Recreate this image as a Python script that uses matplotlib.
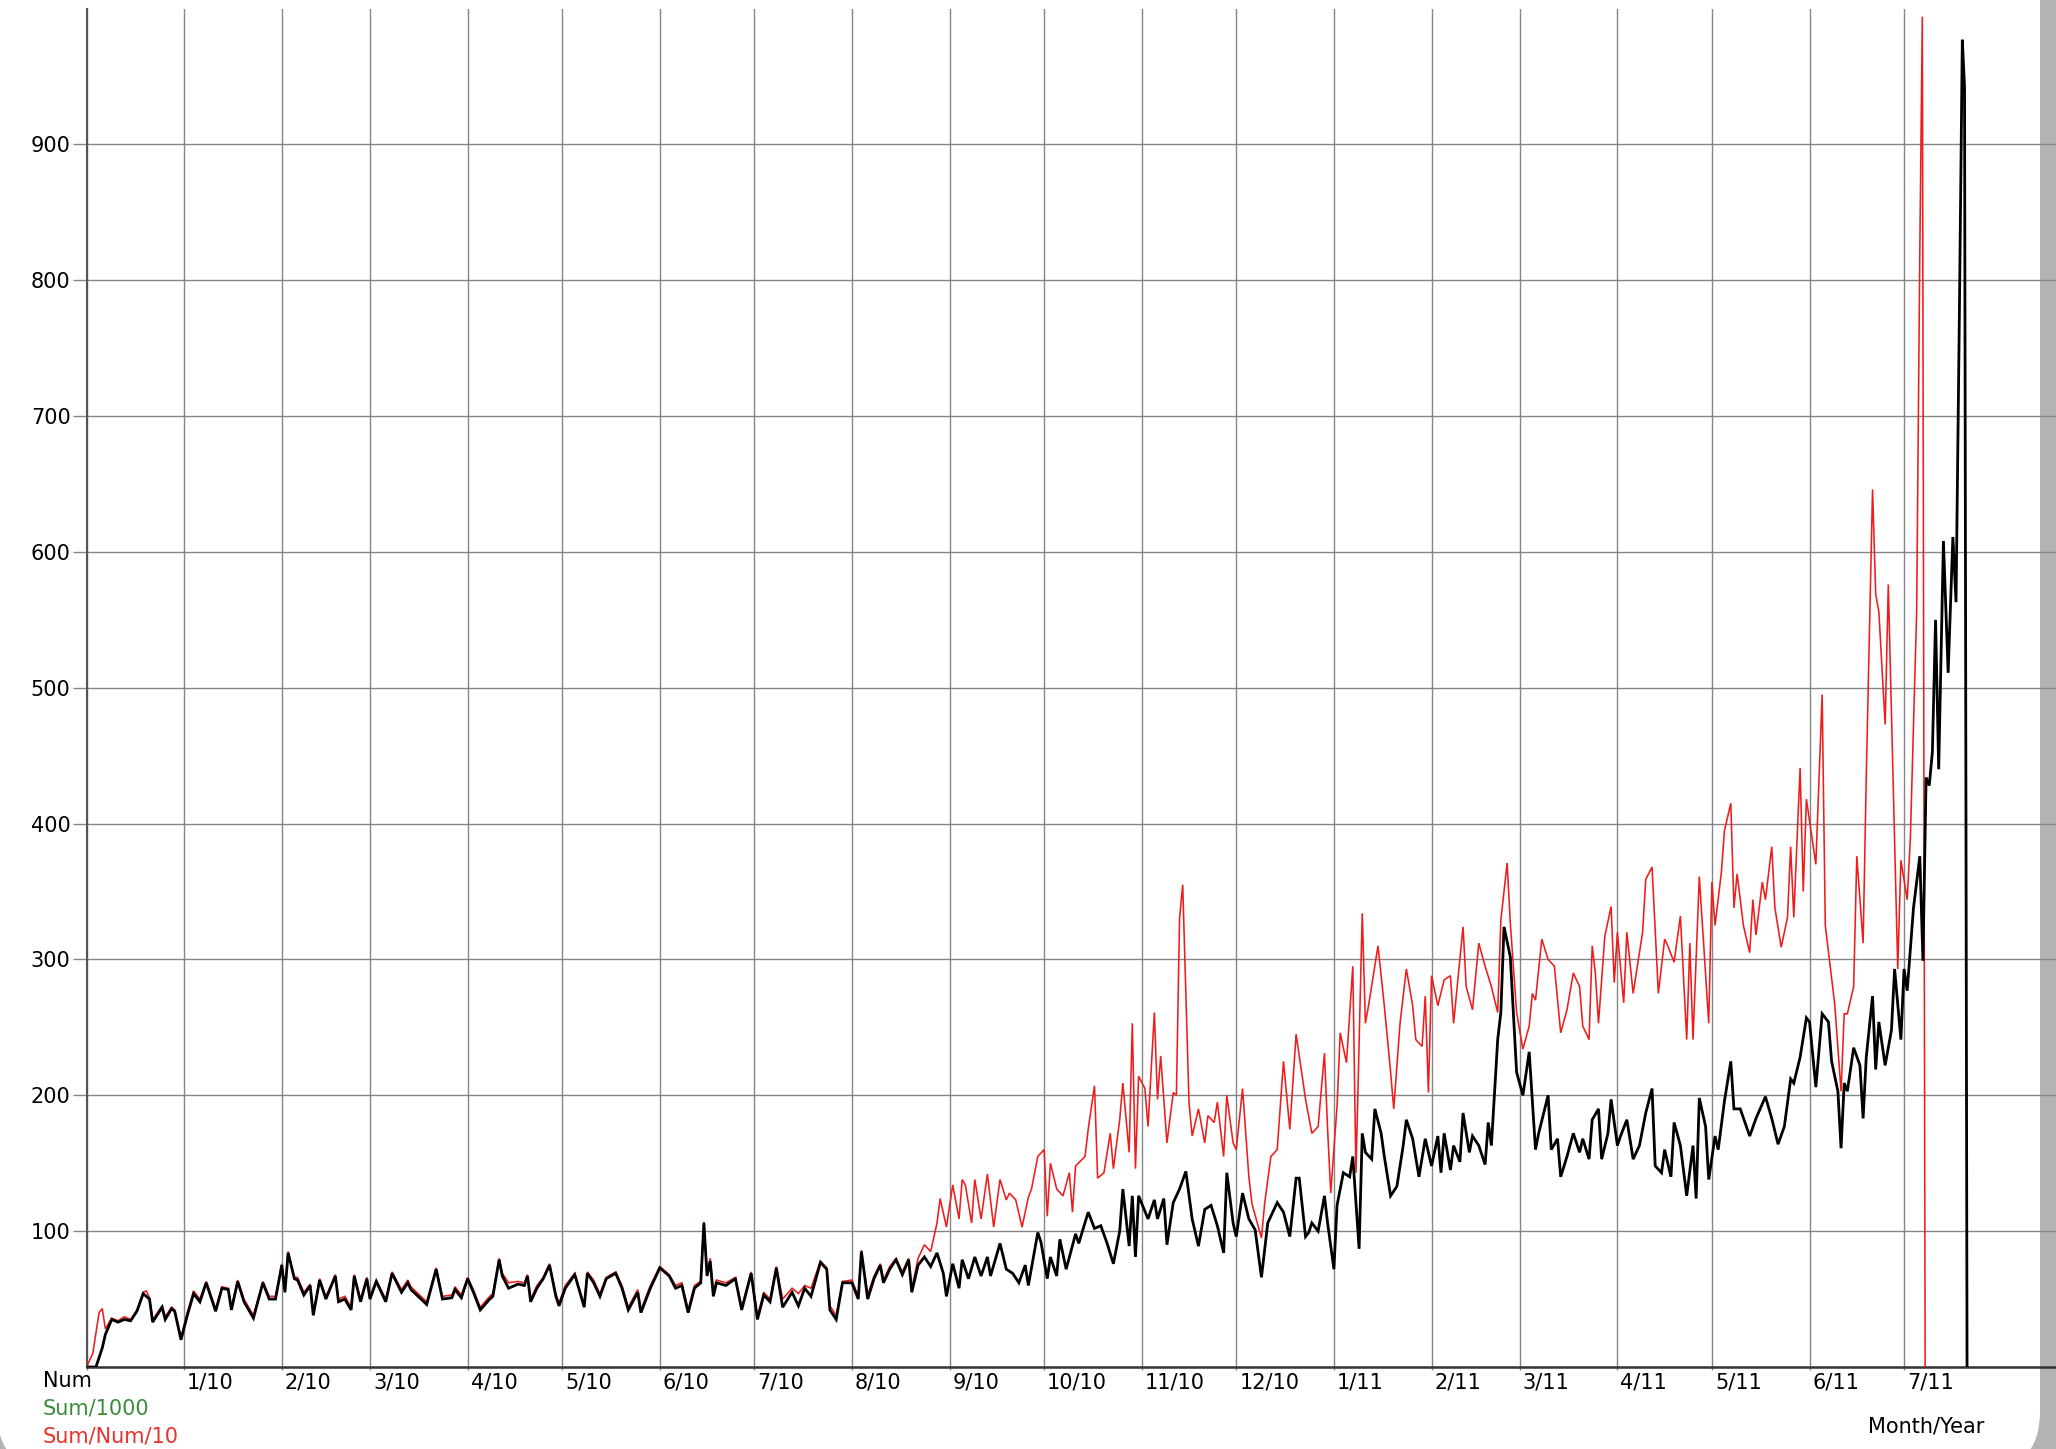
import matplotlib
matplotlib.use("Agg")
import matplotlib.pyplot as plt
import matplotlib.transforms as mtrans
from matplotlib.patches import FancyBboxPatch
import pandas as pd

# ---------------- data ----------------
start_date = "2009-12-01"          # origin of the x axis (day 0)

month_starts = ["2009-12-01", "2010-01-01", "2010-02-01", "2010-03-01", "2010-04-01",
                "2010-05-01", "2010-06-01", "2010-07-01", "2010-08-01", "2010-09-01",
                "2010-10-01", "2010-11-01", "2010-12-01", "2011-01-01", "2011-02-01",
                "2011-03-01", "2011-04-01", "2011-05-01", "2011-06-01", "2011-07-01"]
month_labels = ["", "1/10", "2/10", "3/10", "4/10", "5/10", "6/10", "7/10", "8/10", "9/10",
                "10/10", "11/10", "12/10", "1/11", "2/11", "3/11", "4/11", "5/11", "6/11", "7/11"]

y_ticks = [100, 200, 300, 400, 500, 600, 700, 800, 900]

legend_labels = ["Num", "Sum/1000", "Sum/Num/10"]
legend_colors = ["#000000", "#3c8c3c", "#e8322e"]

# Num  (black) : (day since start, value)
num_points = [
    (0, 0), (3, 0), (5, 14), (6, 24), (8, 35), (10, 33), (12, 35), (14, 34), (16, 41), (18, 54),
    (20, 50), (21, 33), (24, 44), (25, 35), (27, 43), (28, 41), (30, 20), (32, 38), (34, 54), (36, 48),
    (38, 62), (41, 41), (43, 58), (45, 57), (46, 42), (48, 63), (50, 48), (53, 36), (56, 62), (58, 50),
    (60, 50), (62, 75), (63, 55), (64, 84), (66, 65), (67, 64), (69, 53), (71, 60), (72, 38), (74, 64),
    (76, 50), (79, 67), (80, 48), (82, 50), (84, 42), (85, 67), (87, 48), (89, 65), (90, 50), (92, 63),
    (95, 48), (97, 69), (100, 55), (102, 62), (103, 57), (108, 46), (111, 72), (113, 50), (116, 51), (117, 57),
    (119, 51), (121, 65), (123, 54), (125, 42), (128, 50), (129, 52), (131, 79), (132, 67), (134, 58), (137, 61),
    (139, 60), (140, 67), (141, 48), (143, 58), (145, 65), (147, 75), (149, 52), (150, 45), (152, 58), (155, 68),
    (158, 44), (159, 69), (161, 62), (163, 52), (165, 65), (168, 69), (170, 58), (172, 42), (175, 55), (176, 40),
    (179, 58), (182, 73), (185, 67), (187, 58), (189, 60), (191, 40), (193, 58), (195, 62), (196, 106), (197, 67),
    (198, 78), (199, 52), (200, 62), (203, 60), (206, 65), (208, 42), (211, 69), (213, 35), (215, 53), (217, 48),
    (219, 73), (221, 44), (224, 55), (226, 45), (228, 58), (230, 52), (233, 77), (235, 72), (236, 42), (238, 35),
    (240, 62), (243, 62), (245, 50), (246, 85), (248, 50), (250, 65), (252, 75), (253, 62), (255, 72), (257, 79),
    (259, 68), (261, 79), (262, 55), (264, 75), (266, 81), (268, 74), (270, 84), (272, 69), (273, 52), (275, 76),
    (277, 58), (278, 79), (280, 65), (282, 81), (284, 67), (286, 81), (287, 67), (290, 91), (292, 72), (294, 69),
    (296, 62), (298, 75), (299, 60), (302, 99), (303, 92), (305, 65), (306, 81), (308, 67), (309, 94), (311, 72),
    (314, 98), (315, 91), (318, 114), (320, 102), (322, 104), (324, 91), (326, 76), (328, 100), (329, 131), (331, 89),
    (332, 126), (333, 81), (334, 126), (337, 109), (339, 123), (340, 109), (342, 124), (343, 90), (345, 121), (347, 131),
    (349, 144), (351, 109), (353, 89), (355, 116), (357, 119), (359, 104), (361, 84), (362, 143), (364, 106), (365, 96),
    (367, 128), (369, 109), (371, 101), (373, 66), (375, 106), (378, 121), (380, 114), (382, 96), (384, 139), (385, 139),
    (387, 96), (388, 99), (389, 106), (391, 100), (393, 126), (394, 106), (396, 72), (397, 119), (399, 143), (401, 140),
    (402, 155), (404, 87), (405, 172), (406, 158), (408, 153), (409, 190), (411, 172), (412, 155), (414, 126), (416, 133),
    (418, 163), (419, 182), (421, 168), (423, 140), (425, 168), (427, 148), (429, 170), (430, 143), (431, 172), (433, 145),
    (434, 163), (436, 151), (437, 187), (439, 158), (440, 170), (442, 163), (444, 149), (445, 180), (446, 163), (448, 241),
    (449, 261), (450, 324), (452, 302), (454, 217), (456, 200), (458, 232), (460, 160), (461, 172), (464, 200), (465, 160),
    (467, 168), (468, 140), (470, 155), (472, 172), (474, 158), (475, 168), (477, 153), (478, 182), (480, 190), (481, 153),
    (483, 172), (484, 197), (486, 163), (487, 170), (489, 182), (491, 153), (493, 163), (495, 187), (497, 205), (498, 148),
    (500, 143), (501, 160), (503, 140), (504, 180), (506, 163), (508, 126), (510, 163), (511, 124), (512, 198), (514, 177),
    (515, 138), (517, 170), (518, 160), (520, 196), (522, 225), (523, 190), (525, 190), (528, 170), (530, 183), (533, 199),
    (535, 183), (537, 164), (539, 177), (541, 212), (542, 209), (544, 228), (546, 257), (547, 254), (549, 206), (551, 260),
    (553, 254), (554, 225), (556, 203), (557, 161), (558, 209), (559, 203), (561, 235), (563, 222), (564, 183), (565, 228),
    (567, 273), (568, 219), (569, 254), (571, 222), (573, 248), (574, 293), (576, 241), (577, 293), (578, 277), (580, 338),
    (582, 376), (583, 299), (584, 434), (585, 428), (586, 453), (587, 550), (588, 440), (589.5, 608), (591, 511), (592.5, 611),
    (593.5, 563), (594.5, 762), (595.5, 977), (596.2, 942), (597, 0),
]

# Sum/Num/10 (red) : (day since start, value)
avg_points = [
    (0, 0), (2, 10), (4, 40), (5, 43), (6, 28), (8, 36), (10, 34), (12, 37), (14, 35), (16, 42),
    (18, 55), (19, 56), (20, 51), (21, 35), (24, 45), (25, 37), (27, 44), (28, 42), (30, 22), (32, 40),
    (34, 56), (36, 50), (38, 63), (41, 43), (43, 59), (45, 58), (46, 44), (48, 64), (50, 50), (53, 38),
    (56, 63), (58, 52), (60, 52), (62, 76), (63, 57), (64, 85), (66, 66), (67, 66), (69, 55), (71, 61),
    (72, 40), (74, 65), (76, 52), (79, 68), (80, 50), (82, 52), (84, 44), (85, 68), (87, 50), (89, 66),
    (90, 52), (92, 64), (95, 50), (97, 70), (100, 57), (102, 64), (103, 59), (108, 48), (111, 73), (113, 52),
    (116, 53), (117, 59), (119, 53), (121, 66), (123, 56), (125, 44), (128, 52), (129, 54), (131, 80), (132, 69),
    (134, 62), (137, 63), (139, 62), (140, 68), (141, 50), (143, 60), (145, 66), (147, 76), (149, 54), (150, 47),
    (152, 60), (155, 69), (158, 46), (159, 70), (161, 64), (163, 54), (165, 66), (168, 70), (170, 60), (172, 44),
    (175, 57), (176, 42), (179, 60), (182, 74), (185, 68), (187, 60), (189, 62), (191, 42), (193, 60), (195, 63),
    (196, 107), (197, 70), (198, 80), (199, 56), (200, 64), (203, 62), (206, 66), (208, 44), (211, 70), (213, 37),
    (215, 55), (217, 50), (219, 74), (221, 50), (224, 58), (226, 54), (228, 60), (230, 58), (233, 78), (235, 73),
    (236, 45), (238, 38), (240, 63), (243, 64), (245, 52), (246, 86), (248, 53), (250, 67), (252, 76), (253, 64),
    (255, 74), (257, 80), (259, 70), (261, 80), (262, 58), (264, 80), (266, 90), (268, 85), (270, 106), (271, 124),
    (273, 103), (275, 134), (277, 109), (278, 138), (279, 134), (281, 106), (282, 138), (284, 109), (286, 142), (288, 103),
    (290, 138), (292, 123), (293, 128), (295, 123), (297, 103), (299, 125), (300, 131), (302, 155), (304, 160), (305, 111),
    (306, 150), (308, 131), (310, 126), (312, 143), (313, 114), (314, 148), (317, 155), (318, 175), (320, 207), (321, 139),
    (323, 143), (325, 172), (326, 146), (328, 182), (329, 209), (331, 158), (332, 253), (333, 146), (334, 214), (336, 205),
    (337, 177), (339, 261), (340, 197), (341, 229), (343, 165), (345, 202), (346, 200), (347, 330), (348, 355), (350, 195),
    (351, 170), (353, 190), (355, 165), (356, 185), (358, 180), (359, 195), (361, 155), (362, 200), (364, 165), (365, 160),
    (367, 205), (369, 140), (370, 120), (373, 95), (374, 120), (376, 155), (378, 160), (380, 225), (382, 175), (384, 245),
    (385, 229), (387, 197), (389, 172), (391, 177), (393, 231), (394, 175), (395, 128), (397, 192), (398, 246), (400, 224),
    (402, 295), (403, 143), (405, 334), (406, 253), (407, 266), (410, 310), (412, 266), (414, 217), (415, 190), (417, 253),
    (419, 293), (421, 266), (422, 241), (424, 236), (425, 273), (426, 202), (427, 288), (429, 266), (431, 285), (433, 288),
    (434, 253), (436, 300), (437, 324), (438, 280), (440, 263), (442, 312), (444, 295), (446, 280), (448, 261), (449, 329),
    (451, 371), (452, 327), (454, 261), (456, 234), (458, 251), (459, 275), (460, 270), (462, 315), (464, 300), (466, 295),
    (468, 246), (470, 263), (472, 290), (474, 280), (475, 251), (477, 241), (478, 310), (479, 290), (480, 253), (482, 317),
    (484, 339), (485, 283), (486, 320), (488, 268), (489, 320), (491, 275), (494, 320), (495, 359), (497, 368), (499, 275),
    (501, 315), (502, 310), (504, 298), (506, 332), (508, 241), (509, 312), (510, 241), (512, 361), (513, 325), (515, 253),
    (516, 357), (517, 325), (519, 364), (520, 395), (522, 415), (523, 338), (524, 363), (526, 325), (528, 305), (529, 344),
    (530, 318), (532, 357), (533, 344), (535, 383), (536, 338), (538, 309), (540, 331), (541, 383), (542, 331), (544, 441),
    (545, 350), (546, 418), (547, 402), (549, 370), (551, 495), (552, 325), (554, 286), (555, 267), (557, 203), (558, 260),
    (559, 260), (561, 280), (562, 376), (564, 312), (565, 434), (567, 646), (568, 569), (569, 556), (571, 473), (572, 576),
    (574, 389), (575, 293), (576, 373), (578, 344), (579, 389), (581, 556), (582, 820), (582.8, 994), (583.7, 0),
]

# ---------------- figure ----------------
W, H = 2056, 1449
DPI = 100
FS = 15
plt.rcParams["font.family"] = ["DejaVu Sans"]

fig = plt.figure(figsize=(W / DPI, H / DPI), dpi=DPI, facecolor="#b3b3b3")

# white window with rounded corners (screenshot frame)
win = FancyBboxPatch((-3, -22), 2043, H + 200,
                     boxstyle="round,pad=0,rounding_size=60",
                     transform=mtrans.IdentityTransform(),
                     facecolor="white", edgecolor="none", zorder=-10)
fig.add_artist(win)

ax_left, ax_bottom_px, ax_top_px = 86.5, 1367, 8.5
ax = fig.add_axes([ax_left / W, (H - ax_bottom_px) / H,
                   (W - ax_left) / W, (ax_bottom_px - ax_top_px) / H])
ax.set_facecolor("none")

num_x = [p[0] for p in num_points]
num_y = [p[1] for p in num_points]
avg_x = [p[0] for p in avg_points]
avg_y = [p[1] for p in avg_points]

ax.plot(avg_x, avg_y, color="#f01c1c", lw=1.15, zorder=3, solid_joinstyle="miter")
ax.plot(num_x, num_y, color="#000000", lw=2.0, zorder=4, solid_joinstyle="miter")

px_per_day = 3.15
ax.set_xlim(0, (W - ax_left) / px_per_day)
ax.set_ylim(0, 1000)

t0 = pd.Timestamp(start_date)
tick_days = [(pd.Timestamp(m) - t0).days for m in month_starts]
ax.set_xticks(tick_days)
ax.set_xticklabels(month_labels)
ax.set_yticks(y_ticks)
ax.set_yticklabels([str(v) for v in y_ticks])

grid_c = "#858585"
ax.grid(True, color=grid_c, lw=1.0, zorder=1)
ax.set_axisbelow(True)

ax.tick_params(axis="y", direction="out", length=10, width=1.0, color=grid_c,
               pad=1.5, labelsize=FS)
ax.tick_params(axis="x", direction="out", length=2.5, width=1.0, color=grid_c,
               pad=1.5, labelsize=FS)

offset = mtrans.ScaledTranslation(3 / DPI, 0, fig.dpi_scale_trans)
for lbl in ax.get_xticklabels():
    lbl.set_horizontalalignment("left")
    lbl.set_transform(lbl.get_transform() + offset)

for s in ("top", "right"):
    ax.spines[s].set_visible(False)
ax.spines["left"].set_color("#555555")
ax.spines["left"].set_linewidth(1.5)
ax.spines["bottom"].set_color("#333333")
ax.spines["bottom"].set_linewidth(1.8)

# legend-like labels below the axis
legend_y_px = [1381, 1409, 1436]
for lab, col, ypx in zip(legend_labels, legend_colors, legend_y_px):
    fig.text(43 / W, 1 - ypx / H, lab, color=col, fontsize=FS,
             ha="left", va="center")

fig.text(1868 / W, 1 - 1427 / H, "Month/Year", color="black", fontsize=FS,
         ha="left", va="center")

fig.savefig("out.png", dpi=DPI, facecolor=fig.get_facecolor())
